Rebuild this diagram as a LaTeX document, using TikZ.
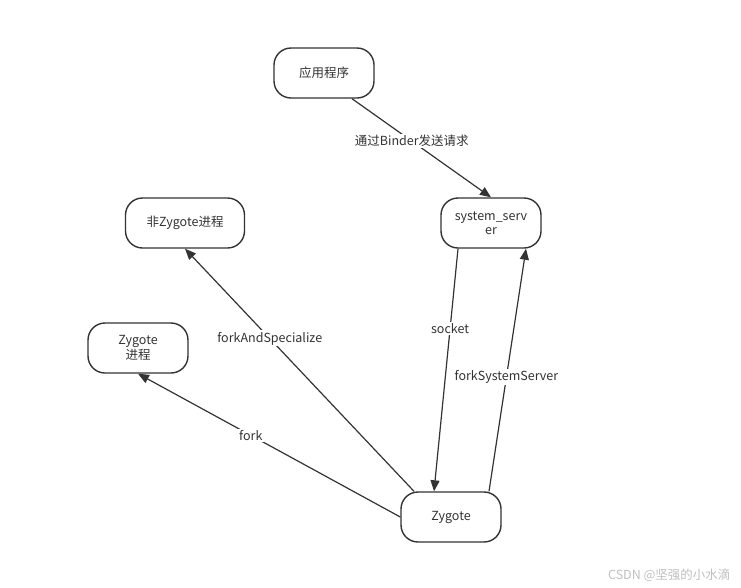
\documentclass[tikz,border=0pt]{standalone}
\usepackage{fontspec}
\setmainfont{Noto Sans CJK SC}
\usetikzlibrary{arrows.meta}
\definecolor{ink}{HTML}{333333}
\definecolor{edge}{HTML}{333333}
\tikzset{
  box/.style={draw=ink, line width=1.4pt, rounded corners=17pt, minimum height=50pt, minimum width=100pt, inner sep=2pt, align=center, text=ink, font=\fontsize{12.5}{14.5}\selectfont},
  conn/.style={draw=edge, line width=1.2pt, -{Triangle[length=11pt,width=9pt]}},
  lbl/.style={fill=white, text=ink, inner sep=1.5pt, font=\fontsize{12.5}{14.5}\selectfont},
}
\begin{document}
\begin{tikzpicture}[x=1pt,y=-1pt]
\useasboundingbox (0,0) rectangle (741,587);
\node[box] (app) at (324,73) {应用程序};
\node[box] (ss) at (491,223) {system\_serv\\er};
\node[box, minimum width=119pt] (nonz) at (185,223) {非Zygote进程};
\node[box] (zp) at (138,348) {Zygote\\进程};
\node[box] (zyg) at (451,517) {Zygote};
\draw[conn] ([xshift=28pt]app.south) -- node[lbl, pos=0.43] {通过Binder发送请求} (ss.north);
\draw[conn] ([xshift=-37pt]zyg.north) -- node[lbl, pos=0.63] {forkAndSpecialize} (nonz.south);
\draw[conn] (zyg.west) -- node[lbl, pos=0.57] {fork} (zp.south);
\draw[conn] ([xshift=-33pt]ss.south) -- node[lbl, pos=0.33] {socket} ([xshift=-17pt]zyg.north);
\draw[conn] ([xshift=38pt]zyg.north) -- node[lbl, pos=0.47] {forkSystemServer} ([xshift=35pt]ss.south);
\node[text=black!25, font=\fontsize{12.5}{14}\selectfont, anchor=east] (wm) at (734,575) {CSDN @坚强的小水滴};
\end{tikzpicture}
\end{document}
